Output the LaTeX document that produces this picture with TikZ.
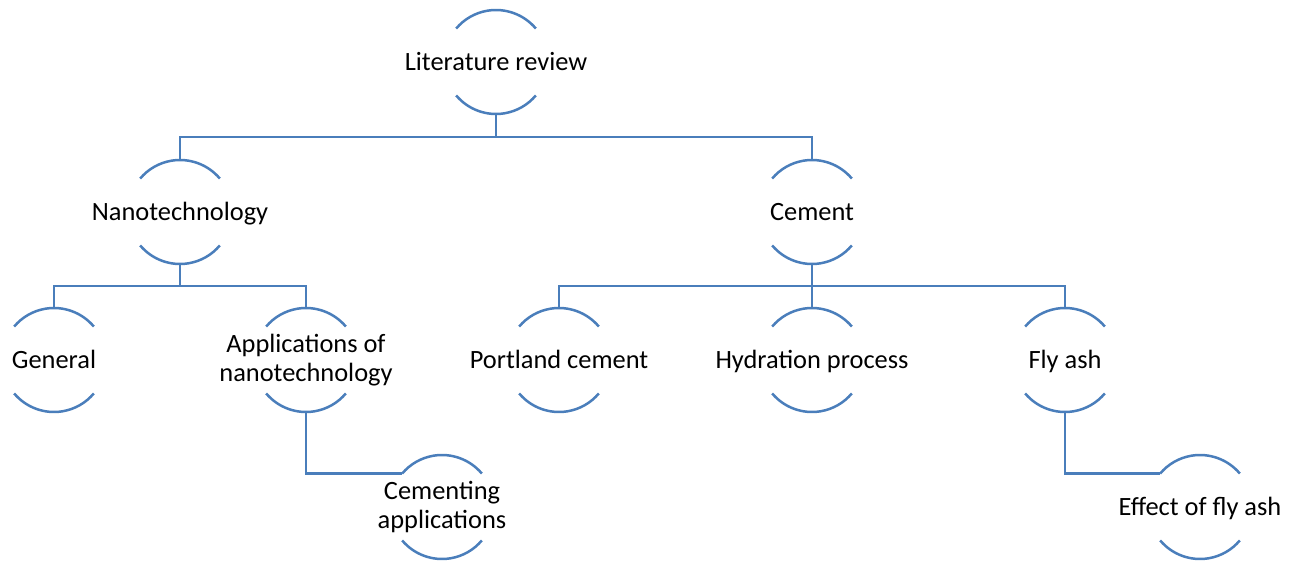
\documentclass[tikz,border=0pt]{standalone}
\usepackage{fontspec}
\setmainfont{Carlito}
\usetikzlibrary{positioning}
\definecolor{capblue}{HTML}{4A7EBB}
\tikzstyle{topic} = [inner sep=0,font=\fontsize{26.4}{30}\selectfont,text height=21pt,text depth=4pt]
\tikzstyle{twoline} = [inner sep=0,font=\fontsize{26.4}{29.5}\selectfont,align=center]
\tikzstyle{arcline} = [draw=capblue,line width=2.5pt]
\tikzstyle{link} = [draw=capblue,line width=2.5pt]
\def \rad {52pt}

\begin{document}
\begin{tikzpicture}[x=1pt,y=1pt,on grid]
      \useasboundingbox (0,0) rectangle (1302,563);
      \node[topic] (lit) at (496,501) {Literature review};
      \node[topic,below left=150pt and 316pt of lit] (nano) {Nanotechnology};
      \node[topic,below right=150pt and 316pt of lit] (cem) {Cement};
      \node[topic,below left=148pt and 126pt of nano] (gen) {General};
      \node[twoline,below right=148pt and 126pt of nano] (app) {Applications of\\nanotechnology};
      \node[topic,below=148pt of cem] (hyd) {Hydration process};
      \node[topic,left=253pt of hyd] (port) {Portland cement};
      \node[topic,right=253pt of hyd] (fly) {Fly ash};
      \node[twoline,below right=147pt and 136pt of app] (cemapp) {Cementing\\applications};
      \node[topic,below right=147pt and 135pt of fly] (eff) {Effect of fly ash};
      % upper and lower caps round each topic
      \foreach \n in {lit,nano,cem,gen,app,port,hyd,fly,cemapp,eff}{
        \draw[arcline] ([shift={(40:\rad)}]\n.center) arc[start angle=40,end angle=140,radius=\rad];
        \draw[arcline] ([shift={(220:\rad)}]\n.center) arc[start angle=220,end angle=320,radius=\rad];
        \coordinate (\n-top) at ([yshift=\rad]\n.center);
        \coordinate (\n-bot) at ([yshift=-\rad]\n.center);
        \coordinate (\n-in) at ([shift={(140:\rad)}]\n.center);
      }
      \draw[link] (lit-bot) -- ++(0,-23) -| (nano-top);
      \draw[link] (lit-bot) -- ++(0,-23) -| (cem-top);
      \draw[link] (nano-bot) -- ++(0,-22) -| (gen-top);
      \draw[link] (nano-bot) -- ++(0,-22) -| (app-top);
      \draw[link] (cem-bot) -- ++(0,-22) -| (port-top);
      \draw[link] (cem-bot) -- (hyd-top);
      \draw[link] (cem-bot) -- ++(0,-22) -| (fly-top);
      \draw[link] (app-bot) |- (cemapp-in);
      \draw[link] (fly-bot) |- (eff-in);
    \end{tikzpicture}
\end{document}
